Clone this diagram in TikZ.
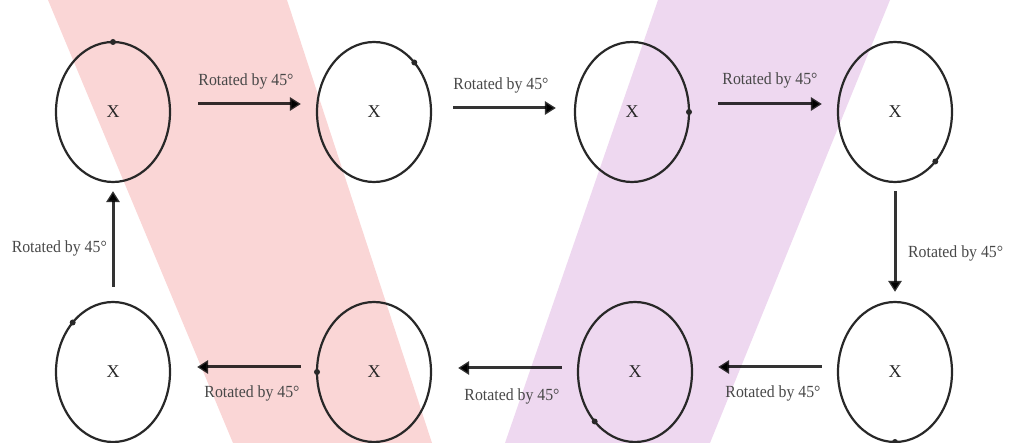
\documentclass[tikz,border=0pt]{standalone}
\usepackage{fontspec}
\setmainfont{Liberation Serif}
\usetikzlibrary{shapes.geometric,arrows.meta,calc}
\definecolor{bandpink}{RGB}{250,214,214}
\definecolor{bandpurple}{RGB}{238,216,240}
\definecolor{ink}{RGB}{40,40,40}
\begin{document}
\begin{tikzpicture}[x=1pt,y=-1pt,
  ring/.style={ellipse,draw=ink,line width=2.2pt,minimum width=114pt,minimum height=140pt,inner sep=0pt,font=\fontsize{18}{20}\selectfont,text=ink},
  spot/.style={circle,fill=ink,inner sep=0pt,minimum size=6pt},
  arr/.style={draw=black,draw opacity=0.8,line width=3pt,-{Triangle[length=11pt,width=13pt]}},
  lab/.style={inner sep=0pt,font=\fontsize{17}{19}\selectfont,text=ink!85,xscale=0.93}]
\useasboundingbox (0,0) rectangle (1010,443);
% background bands
\fill[bandpink] (48,0) -- (287,0) -- (432,443) -- (233,443) -- cycle;
\fill[bandpurple] (658,0) -- (890,0) -- (710,443) -- (505,443) -- cycle;
% ellipses
\node[ring] (e1) at (113,112) {X};
\node[ring] (e2) at (374,112) {X};
\node[ring] (e3) at (632,112) {X};
\node[ring] (e4) at (895,112) {X};
\node[ring] (e5) at (895,372) {X};
\node[ring] (e6) at (635,372) {X};
\node[ring] (e7) at (374,372) {X};
\node[ring] (e8) at (113,372) {X};
% marker dots
\node[spot] (d1) at ($(e1)+(0,-70)$) {};
\node[spot] (d2) at ($(e2)+(40.3,-49.5)$) {};
\node[spot] (d3) at ($(e3)+(57,0)$) {};
\node[spot] (d4) at ($(e4)+(40.3,49.5)$) {};
\node[spot] (d5) at ($(e5)+(0,70)$) {};
\node[spot] (d6) at ($(e6)+(-40.3,49.5)$) {};
\node[spot] (d7) at ($(e7)+(-57,0)$) {};
\node[spot] (d8) at ($(e8)+(-40.3,-49.5)$) {};
% arrows
\draw[arr] ([shift={(27,-8)}]e1.east) -- ([shift={(-15,-8)}]e2.west);
\draw[arr] ([shift={(21,-4)}]e2.east) -- ([shift={(-18,-4)}]e3.west);
\draw[arr] ([shift={(28,-8)}]e3.east) -- ([shift={(-15,-8)}]e4.west);
\draw[arr] ([shift={(0,8)}]e4.south) -- ([shift={(0,-9)}]e5.north);
\draw[arr] ([shift={(-15,-5)}]e5.west) -- ([shift={(25,-5)}]e6.east);
\draw[arr] ([shift={(-15,-4)}]e6.west) -- ([shift={(26,-4)}]e7.east);
\draw[arr] ([shift={(-15,-5)}]e7.west) -- ([shift={(26,-5)}]e8.east);
\draw[arr] ([shift={(0,-14)}]e8.north) -- ([shift={(0,8)}]e1.south);
% labels
\node[lab] (l1) at (246,81) {Rotated by 45°};
\node[lab] (l2) at (501,85) {Rotated by 45°};
\node[lab] (l3) at (770,80) {Rotated by 45°};
\node[lab,anchor=west] (l4) at (908,253) {Rotated by 45°};
\node[lab] (l5) at (773,393) {Rotated by 45°};
\node[lab] (l6) at (512,396) {Rotated by 45°};
\node[lab] (l7) at (252,393) {Rotated by 45°};
\node[lab,anchor=east] (l8) at (107,248) {Rotated by 45°};
\end{tikzpicture}
\end{document}
